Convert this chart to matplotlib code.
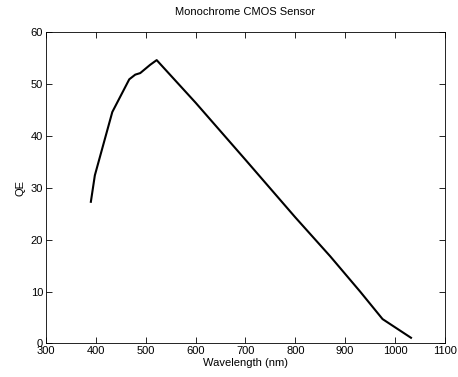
import matplotlib

matplotlib.use("Agg")
import matplotlib.pyplot as plt

# QE curve
wavelength = [390, 398, 433, 467, 479, 489, 509, 522, 600, 700, 800, 870, 930, 975, 1032]
qe = [27.3, 32.4, 44.6, 50.9, 51.8, 52.1, 53.7, 54.6, 46.4, 35.4, 24.3, 16.8, 10.0, 4.7, 1.1]

x_ticks = [300, 400, 500, 600, 700, 800, 900, 1000, 1100]
y_ticks = [0, 10, 20, 30, 40, 50, 60]

plt.rcParams["font.family"] = ["Liberation Sans", "DejaVu Sans"]
plt.rcParams["font.size"] = 8

fig = plt.figure(figsize=(4.58, 3.77), dpi=100)
ax = fig.add_axes([0.1004, 0.0889, 0.871, 0.826])

ax.plot(wavelength, qe, color="black", linewidth=1.5)

ax.set_xlim(300, 1100)
ax.set_ylim(0, 60)
ax.set_xticks(x_ticks)
ax.set_yticks(y_ticks)
ax.tick_params(direction="in", length=4, width=0.6, top=True, right=True, pad=2)
for s in ax.spines.values():
    s.set_linewidth(0.6)

ax.set_xlabel("Wavelength (nm)", labelpad=1)
ax.set_ylabel("QE", labelpad=4)
ax.set_title("Monochrome CMOS Sensor", fontsize=8, pad=12)

plt.savefig("out.png", dpi=100)
plt.close(fig)
